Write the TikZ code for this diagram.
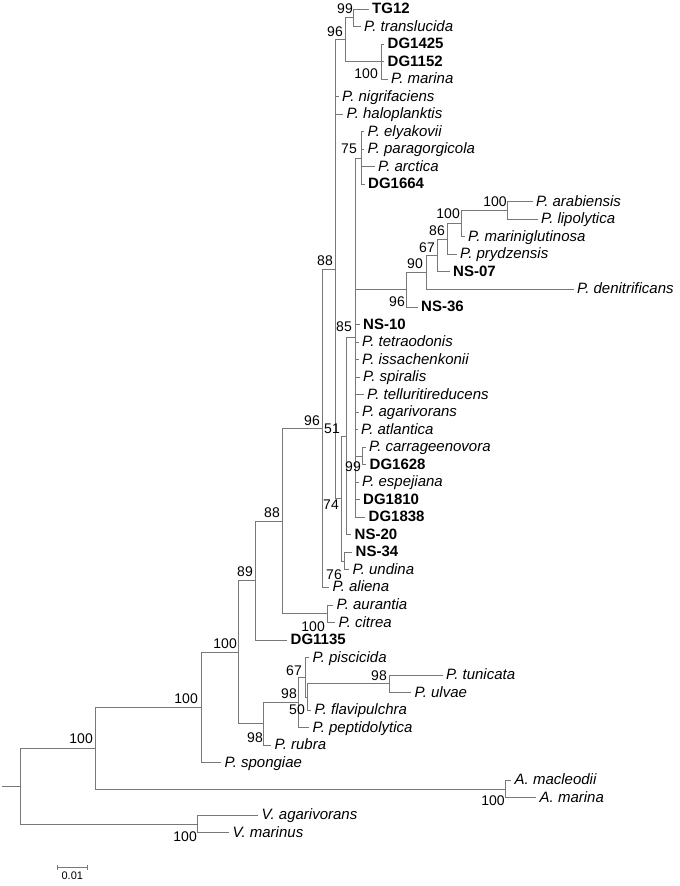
\documentclass[tikz,border=0pt]{standalone}
\usepackage{fontspec}
\setmainfont{Liberation Sans}
\usetikzlibrary{positioning}
\definecolor{branchgray}{RGB}{120,120,120}

\tikzset{
  branch/.style={draw=branchgray, line width=1pt, to path={|- (\tikztotarget)}},
  sp/.style={anchor=west, inner xsep=3pt, inner ysep=0pt, text height=9pt, text depth=0pt,
    font=\fontsize{15}{16}\selectfont\itshape},
  iso/.style={sp, font=\fontsize{15}{16}\selectfont\bfseries},
  boot/.style={anchor=east, inner sep=0pt, text height=10pt, text depth=0pt,
    font=\fontsize{14}{16}\selectfont},
}

\begin{document}
\begin{tikzpicture}[x=1pt, y=-17.53pt, every edge/.style={branch}]
  \useasboundingbox (0,0.4866) rectangle (680,51.03);

  % leaves, one row each
  \node[iso] (tg12)    at (369,1)    {TG12};
  \node[sp]  (transl)  at (361,2)    {P. translucida};
  \node[iso] (dg1425)  at (384.5,3)  {DG1425};
  \node[iso] (dg1152)  at (384.5,4)  {DG1152};
  \node[sp]  (pmarina) at (388,5)    {P. marina};
  \node[sp]  (nigri)   at (339,6)    {P. nigrifaciens};
  \node[sp]  (halo)    at (343.5,7)  {P. haloplanktis};
  \node[sp]  (elya)    at (364.5,8)  {P. elyakovii};
  \node[sp]  (parag)   at (364.5,9)  {P. paragorgicola};
  \node[sp]  (arct)    at (375,10)   {P. arctica};
  \node[iso] (dg1664)  at (365,11)   {DG1664};
  \node[sp]  (arab)    at (533,12)   {P. arabiensis};
  \node[sp]  (lipo)    at (538,13)   {P. lipolytica};
  \node[sp]  (marini)  at (465,14)   {P. mariniglutinosa};
  \node[sp]  (prydz)   at (457,15)   {P. prydzensis};
  \node[iso] (ns07)    at (450,16)   {NS-07};
  \node[sp]  (denit)   at (574,17)   {P. denitrificans};
  \node[iso] (ns36)    at (418,18)   {NS-36};
  \node[iso] (ns10)    at (360,19)   {NS-10};
  \node[sp]  (tetra)   at (359,20)   {P. tetraodonis};
  \node[sp]  (issa)    at (359,21)   {P. issachenkonii};
  \node[sp]  (spir)    at (360,22)   {P. spiralis};
  \node[sp]  (tellu)   at (364,23)   {P. telluritireducens};
  \node[sp]  (agar)    at (359,24)   {P. agarivorans};
  \node[sp]  (atlan)   at (358,25)   {P. atlantica};
  \node[sp]  (carra)   at (366,26)   {P. carrageenovora};
  \node[iso] (dg1628)  at (366.5,27) {DG1628};
  \node[sp]  (espej)   at (359,28)   {P. espejiana};
  \node[iso] (dg1810)  at (360,29)   {DG1810};
  \node[iso] (dg1838)  at (365.5,30) {DG1838};
  \node[iso] (ns20)    at (351.5,31) {NS-20};
  \node[iso] (ns34)    at (352.5,32) {NS-34};
  \node[sp]  (undina)  at (349.5,33) {P. undina};
  \node[sp]  (aliena)  at (329.5,34) {P. aliena};
  \node[sp]  (auran)   at (333.5,35) {P. aurantia};
  \node[sp]  (citrea)  at (335.5,36) {P. citrea};
  \node[iso] (dg1135)  at (287.5,37) {DG1135};
  \node[sp]  (pisci)   at (309.5,38) {P. piscicida};
  \node[sp]  (tunic)   at (443,39)   {P. tunicata};
  \node[sp]  (ulvae)   at (411.5,40) {P. ulvae};
  \node[sp]  (flavi)   at (311.5,41) {P. flavipulchra};
  \node[sp]  (pepti)   at (309.5,42) {P. peptidolytica};
  \node[sp]  (rubra)   at (271.5,43) {P. rubra};
  \node[sp]  (spong)   at (221.5,44) {P. spongiae};
  \node[sp]  (macle)   at (511.5,45) {A. macleodii};
  \node[sp]  (amarina) at (536.5,46) {A. marina};
  \node[sp]  (vagar)   at (258.5,47) {V. agarivorans};
  \node[sp]  (vmarin)  at (229.5,48) {V. marinus};

  % internal nodes
  \coordinate (n99)   at (354,1.5);
  \coordinate (ndg)   at (382,4);
  \coordinate (n96a)  at (346,2.75);
  \coordinate (n75)   at (362,9.5);
  \coordinate (n100a) at (508,12.5);
  \coordinate (n100b) at (462,13.25);
  \coordinate (n86)   at (448,14.125);
  \coordinate (n67a)  at (438,15.0625);
  \coordinate (n90)   at (427,16.031);
  \coordinate (n96b)  at (407,17.016);
  \coordinate (n99b)  at (363,26.5);
  \coordinate (nA)    at (356,19.75);
  \coordinate (n76)   at (345,32.5);
  \coordinate (nB)    at (347,25.375);
  \coordinate (nD)    at (342,28.9375);
  \coordinate (n88a)  at (336,15.844);
  \coordinate (n96c)  at (322.5,24.922);
  \coordinate (n100c) at (328,35.5);
  \coordinate (n88b)  at (283,30.211);
  \coordinate (n89)   at (256,33.605);
  \coordinate (n98t)  at (390,39.5);
  \coordinate (n50)   at (308,40.25);
  \coordinate (n67b)  at (306,39.125);
  \coordinate (n98p)  at (299,40.5625);
  \coordinate (n98r)  at (264,41.781);
  \coordinate (n100d) at (239,37.693);
  \coordinate (n100e) at (202,40.847);
  \coordinate (nAm)   at (506,45.5);
  \coordinate (n100f) at (96,43.173);
  \coordinate (nV)    at (198,47.5);
  \coordinate (root)  at (21,45.337);
  \coordinate (stub)  at (2,45.337);

  % branches
  \path (n99) edge (tg12.west) edge (transl.west);
  \path (ndg) edge (dg1425.west) edge (dg1152.west) edge (pmarina.west);
  \path (n96a) edge (n99) edge (ndg);
  \path (n75) edge (elya.west) edge (parag.west) edge (arct.west) edge (dg1664.west);
  \path (n100a) edge (arab.west) edge (lipo.west);
  \path (n100b) edge (n100a) edge (marini.west);
  \path (n86) edge (n100b) edge (prydz.west);
  \path (n67a) edge (n86) edge (ns07.west);
  \path (n90) edge (n67a) edge (denit.west);
  \path (n96b) edge (n90) edge (ns36.west);
  \path (n99b) edge (carra.west) edge (dg1628.west);
  \path (nA) edge (n75) edge (n96b) edge (ns10.west) edge (tetra.west) edge (issa.west)
    edge (spir.west) edge (tellu.west) edge (agar.west) edge (atlan.west) edge (n99b)
    edge (espej.west) edge (dg1810.west) edge (dg1838.west);
  \path (n76) edge (ns34.west) edge (undina.west);
  \path (nB) edge (nA) edge (ns20.west);
  \path (nD) edge (nB) edge (n76);
  \path (n88a) edge (n96a) edge (nigri.west) edge (halo.west) edge (nD);
  \path (n96c) edge (n88a) edge (aliena.west);
  \path (n100c) edge (auran.west) edge (citrea.west);
  \path (n88b) edge (n96c) edge (n100c);
  \path (n89) edge (n88b) edge (dg1135.west);
  \path (n98t) edge (tunic.west) edge (ulvae.west);
  \path (n50) edge (n98t) edge (flavi.west);
  \path (n67b) edge (pisci.west) edge (n50);
  \path (n98p) edge (n67b) edge (pepti.west);
  \path (n98r) edge (n98p) edge (rubra.west);
  \path (n100d) edge (n89) edge (n98r);
  \path (n100e) edge (n100d) edge (spong.west);
  \path (nAm) edge (macle.west) edge (amarina.west);
  \path (n100f) edge (n100e) edge (nAm);
  \path (nV) edge (vagar.west) edge (vmarin.west);
  \path (root) edge (n100f) edge (nV);
  \draw[branchgray, line width=1pt] (stub) -- (root);

  % bootstrap values
  \node[boot] (b99a)  at ([xshift=-1pt,yshift=9pt]n99)    {99};
  \node[boot] (b96a)  at ([xshift=-3pt,yshift=8.5pt]n96a) {96};
  \node[boot] (b100a) at ([xshift=-4pt,yshift=-12pt]ndg)  {100};
  \node[boot] (b75)   at ([xshift=-5pt,yshift=10pt]n75)   {75};
  \node[boot] (b100b) at ([xshift=-1pt,yshift=9pt]n100a)  {100};
  \node[boot] (b100c) at ([xshift=-2pt,yshift=10pt]n100b) {100};
  \node[boot] (b86)   at ([xshift=-3pt,yshift=8.5pt]n86)  {86};
  \node[boot] (b67a)  at ([xshift=-3pt,yshift=8pt]n67a)   {67};
  \node[boot] (b90)   at ([xshift=-4pt,yshift=9pt]n90)    {90};
  \node[boot] (b88a)  at ([xshift=-3pt,yshift=8.5pt]n88a) {88};
  \node[boot] (b96b)  at ([xshift=-2pt,yshift=-11.5pt]n96b) {96};
  \node[boot] (b85)   at ([xshift=-4pt,yshift=11pt]nA)    {85};
  \node[boot] (b96c)  at ([xshift=-2.5pt,yshift=8pt]n96c) {96};
  \node[boot] (b51)   at ([xshift=-7pt,yshift=8pt]nB)     {51};
  \node[boot] (b99b)  at ([xshift=-2pt,yshift=-10.5pt]n99b) {99};
  \node[boot] (b74)   at ([xshift=-3pt,yshift=-6pt]nD)    {74};
  \node[boot] (b88b)  at ([xshift=-3pt,yshift=8.5pt]n88b) {88};
  \node[boot] (b76)   at ([xshift=-3pt,yshift=-13pt]n76)  {76};
  \node[boot] (b89)   at ([xshift=-3pt,yshift=9pt]n89)    {89};
  \node[boot] (b100d) at ([xshift=-3pt,yshift=-12.5pt]n100c) {100};
  \node[boot] (b100e) at ([xshift=-2pt,yshift=8.5pt]n100d) {100};
  \node[boot] (b67b)  at ([xshift=-4pt,yshift=7pt]n67b)   {67};
  \node[boot] (b98a)  at ([xshift=-3pt,yshift=8.5pt]n98t) {98};
  \node[boot] (b98b)  at ([xshift=-2pt,yshift=9pt]n98p)   {98};
  \node[boot] (b50)   at ([xshift=-3pt,yshift=-12.5pt]n50) {50};
  \node[boot] (b100f) at ([xshift=-4pt,yshift=9pt]n100e)  {100};
  \node[boot] (b98c)  at ([xshift=-1pt,yshift=-13.5pt]n98r) {98};
  \node[boot] (b100g) at ([xshift=-3pt,yshift=10pt]n100f) {100};
  \node[boot] (b100h) at ([xshift=-1pt,yshift=-11.5pt]nAm) {100};
  \node[boot] (b100i) at ([xshift=-1pt,yshift=-12.5pt]nV)  {100};

  % scale bar
  \coordinate (sbl) at (57.3,49.985);
  \coordinate (sbr) at (87.3,49.985);
  \coordinate (sbm) at (72.3,49.985);
  \draw[branchgray, line width=1pt] (sbl) -- (sbr);
  \draw[branchgray, line width=1pt] ([yshift=2.5pt]sbl) -- ([yshift=-2.5pt]sbl);
  \draw[branchgray, line width=1pt] ([yshift=2.5pt]sbr) -- ([yshift=-2.5pt]sbr);
  \node[inner sep=0pt, font=\fontsize{11}{12}\selectfont, below=4pt of sbm] (sblab) {0.01};
\end{tikzpicture}
\end{document}
